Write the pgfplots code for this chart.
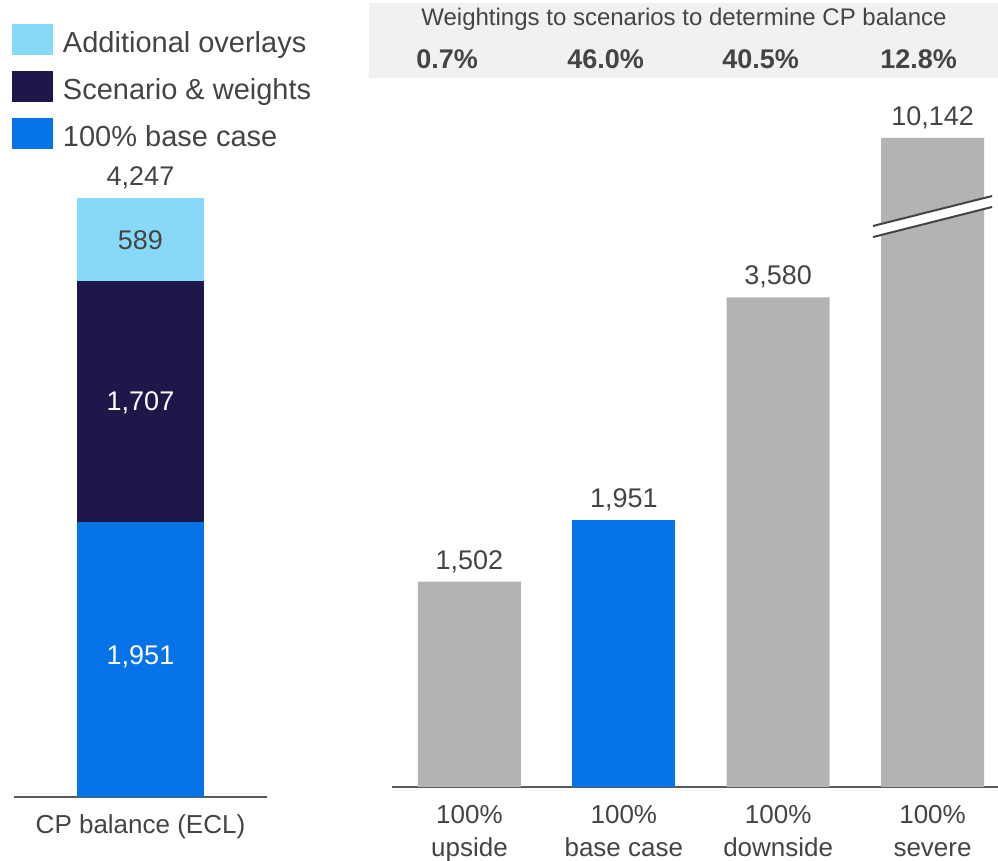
\documentclass[border=0pt]{standalone}
\usepackage{pgfplots}
\pgfplotsset{compat=1.18}
\usepackage{fontspec}
\setmainfont{Liberation Sans}

\definecolor{txt}{RGB}{68,68,68}
\definecolor{barblue}{RGB}{6,115,232}
\definecolor{navy}{RGB}{30,23,73}
\definecolor{lightblue}{RGB}{136,217,247}
\definecolor{bargrey}{RGB}{179,179,179}
\definecolor{axisgrey}{RGB}{90,90,90}
\definecolor{headgrey}{RGB}{241,241,241}

\pgfplotsset{
  patch/.style={legend image code/.code={\fill[##1] (0pt,-5.7pt) rectangle (20.5pt,9.8pt);}},
  common/.style={
    scale only axis, clip=false,
    axis x line=bottom, axis y line=none,
    x axis line style={-, draw=axisgrey, line width=0.8pt},
    ymin=0, major tick length=0pt,
    xtick style={draw=none},
    ticklabel style={font=\fontsize{13}{16.5}\selectfont, text=txt},
    x tick label style={align=center, yshift=-5.5pt},
    nodes near coords, point meta=explicit symbolic,
  },
}

\begin{document}
\begin{tikzpicture}
\useasboundingbox (0,0) rectangle (499pt,430.5pt);

% header box with the weightings
\fill[headgrey] (184.5pt,391.5pt) rectangle (499pt,429pt);
\node[text=txt, font=\fontsize{12}{14}\selectfont] at (342pt,421pt)
  {Weightings to scenarios to determine CP balance};
\foreach \x/\p in {208/0.7, 283.5/46.0, 361/40.5, 440/12.8}
  \node[anchor=west, inner sep=0pt, text=txt, font=\fontsize{13.5}{16}\bfseries]
    at (\x pt,401pt) {\p\%};

% left: stacked CP balance
\begin{axis}[common,
  at={(7pt,32pt)}, anchor=south west,
  width=126.5pt, height=317.25pt, ymax=4500,
  xmin=0, xmax=1, xtick={0.5}, xticklabels={CP balance (ECL)},
  ybar stacked, bar width=63.5pt,
  every node near coord/.append style={anchor=center, font=\fontsize{13.5}{16}\selectfont},
  legend style={at={(-0.008,1.2183)}, anchor=north west, draw=none, fill=none,
    inner sep=0pt, outer sep=0pt, row sep=7.75pt,
    nodes={inner sep=0pt, text=txt, font=\fontsize{14.5}{17}\selectfont},
    /tikz/every odd column/.append style={column sep=5pt}},
  legend cell align=left,
  reverse legend,
]
\addplot[fill=barblue, draw=none, patch,
  every node near coord/.append style={text=white, yshift=-67.5pt}]
  coordinates {(0.5,1951) [1,951]};
\addlegendentry{100\% base case}
\addplot[fill=navy, draw=none, patch,
  every node near coord/.append style={text=white, yshift=-60.9pt}]
  coordinates {(0.5,1707) [1,707]};
\addlegendentry{Scenario \& weights}
\addplot[fill=lightblue, draw=none, patch,
  every node near coord/.append style={text=txt, yshift=-20.9pt}]
  coordinates {(0.5,589) [589]};
\addlegendentry{Additional overlays}
% empty segment on top carries the total
\addplot[draw=none, fill=none, forget plot,
  every node near coord/.append style={text=txt, yshift=10.1pt}]
  coordinates {(0.5,0.001) [4,247]};
\end{axis}

% right: 100% scenarios
\begin{axis}[common,
  at={(196pt,37pt)}, anchor=south west,
  width=303pt, height=342pt, ymax=5000,
  xmin=-0.502, xmax=3.424, xtick={0,1,2,3},
  xticklabels={{100\%\\upside},{100\%\\base case},{100\%\\downside},{100\%\\severe}},
  ybar, bar width=51.5pt,
  every node near coord/.append style={anchor=center, yshift=10pt, text=txt,
    font=\fontsize{13.5}{16}\selectfont},
]
% severe bar is broken: drawn at 4745, labelled with its value
\addplot[fill=bargrey, draw=none, bar shift=0pt]
  coordinates {(0,1502) [1,502] (2,3580) [3,580] (3,4745) [10,142]};
\addplot[fill=barblue, draw=none, bar shift=0pt]
  coordinates {(1,1951) [1,951]};
\fill[white] (axis cs:2.614,4020) -- (axis cs:3.386,4240)
  -- (axis cs:3.386,4320) -- (axis cs:2.614,4101) -- cycle;
\draw[txt, line width=1pt] (axis cs:2.614,4020) -- (axis cs:3.386,4240);
\draw[txt, line width=1pt] (axis cs:2.614,4101) -- (axis cs:3.386,4320);
\end{axis}
\end{tikzpicture}
\end{document}
